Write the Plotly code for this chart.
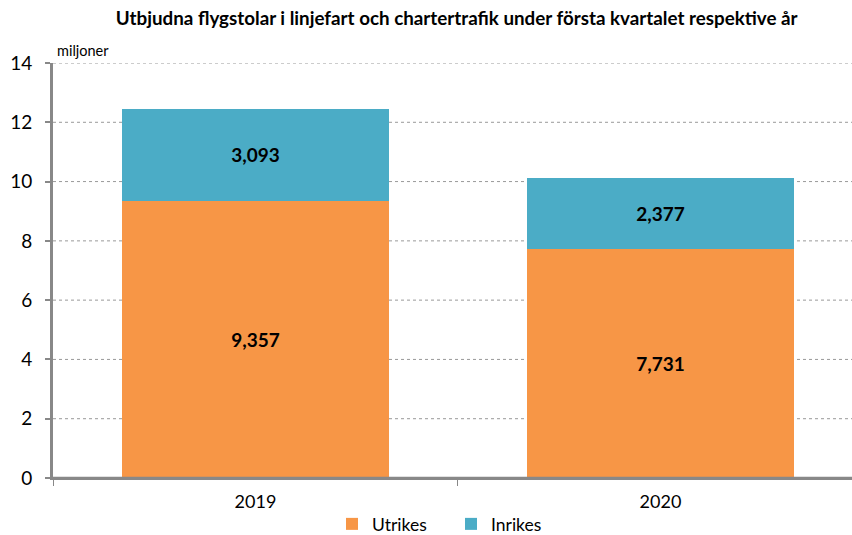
import plotly.graph_objects as go

years = ["2019", "2020"]
utrikes = [9.357, 7.731]
inrikes = [3.093, 2.377]
utrikes_labels = ["9,357", "7,731"]
inrikes_labels = ["3,093", "2,377"]
y_ticks = [0, 2, 4, 6, 8, 10, 12, 14]

FONT = "Lato, Open Sans, sans-serif"

fig = go.Figure()
fig.add_trace(go.Bar(
    x=years, y=utrikes, name="Utrikes", marker=dict(color="#F79646", line=dict(width=0)),
    text=utrikes_labels, textposition="inside", insidetextanchor="middle",
    textfont=dict(family=FONT, size=19, color="black", weight="bold"),
    width=0.66, legend="legend",
))
fig.add_trace(go.Bar(
    x=years, y=inrikes, name="Inrikes", marker=dict(color="#4BACC6", line=dict(width=0)),
    text=inrikes_labels, textposition="inside", insidetextanchor="middle",
    textfont=dict(family=FONT, size=19, color="black", weight="bold"),
    width=0.66, legend="legend2",
))

leg_common = dict(orientation="h", xanchor="left", yanchor="middle",
                  xref="container", yref="container", y=11 / 535,
                  font=dict(family=FONT, size=17.5), itemwidth=30,
                  bgcolor="rgba(0,0,0,0)")

fig.update_layout(
    width=852, height=535,
    barmode="stack",
    plot_bgcolor="white", paper_bgcolor="white",
    margin=dict(l=53, r=0, t=63, b=57, autoexpand=False),
    font=dict(family=FONT, size=16, color="black"),
    title=dict(text="<b>Utbjudna flygstolar i linjefart och chartertrafik under första kvartalet respektive år</b>",
               x=0.536, xanchor="center", xref="container", y=1 - 18 / 535, yanchor="middle",
               font=dict(family=FONT, size=18.8, color="black")),
    showlegend=True,
    legend=dict(x=332 / 852, **leg_common),
    legend2=dict(x=451 / 852, **leg_common),
)
fig.update_xaxes(
    type="category", range=[-0.5, 1.473], automargin=False,
    showline=True, linecolor="#888888", linewidth=2,
    ticks="outside", tickson="boundaries", ticklen=6, tickcolor="#888888", tickwidth=1,
    showgrid=False, tickfont=dict(family=FONT, size=18), ticklabelstandoff=6,
)
fig.update_yaxes(
    range=[0, 14], tickvals=y_ticks, automargin=False,
    showline=True, linecolor="#888888", linewidth=3,
    ticks="outside", ticklen=5, tickcolor="#888888", tickwidth=2,
    showgrid=False, zeroline=False,
    tickfont=dict(family=FONT, size=19), ticklabelstandoff=9,
)
# horizontal gridlines at the y tick values, spanning the full plot width
for v in y_ticks[1:]:
    fig.add_shape(type="line", xref="paper", yref="y", x0=0, x1=1, y0=v, y1=v,
                  line=dict(color="#999999", width=1, dash="dot"), layer="below")
# x axis baseline across the full plot width
fig.add_shape(type="line", xref="paper", yref="y", x0=0, x1=1, y0=0, y1=0,
              line=dict(color="#888888", width=2.5), layer="above")

fig.add_annotation(text="miljoner", xref="paper", yref="paper", x=0.003, y=1.0,
                   xanchor="left", yanchor="bottom", showarrow=False,
                   font=dict(family=FONT, size=14.5, color="black"), yshift=2)

fig.write_html(
    "out.html",
    config={"displayModeBar": False},
    post_script=("document.body.style.margin='0';document.body.style.overflow='hidden';"
                 "document.documentElement.style.overflow='hidden';"),
)
